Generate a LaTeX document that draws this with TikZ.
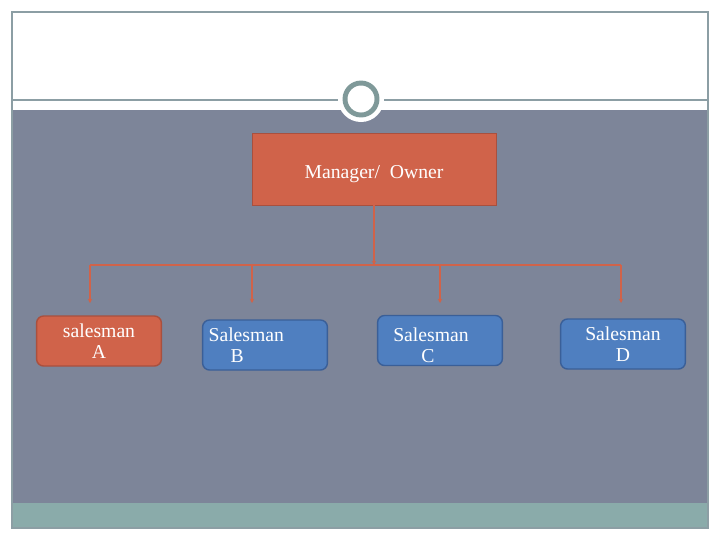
\documentclass[tikz,border=0pt]{standalone}
\usepackage{fontspec}
\setmainfont{Liberation Serif}
\usetikzlibrary{positioning, arrows.meta}

\definecolor{slate}{HTML}{7D8599}
\definecolor{teal}{HTML}{8AABAA}
\definecolor{framegray}{HTML}{8C9EA4}
\definecolor{ringgray}{HTML}{7F9999}
\definecolor{rust}{HTML}{D0634A}
\definecolor{rustdark}{HTML}{A9503E}
\definecolor{steel}{HTML}{4F7FC0}
\definecolor{steeldark}{HTML}{3A5F98}

\tikzset{
  boss/.style={draw=rustdark, fill=rust, text=white, minimum width=6.1cm, minimum height=1.8cm,
    text height=16pt, text depth=3pt, font=\fontsize{14}{16}\selectfont},
  worker/.style={draw=steeldark, fill=steel, text=white, rounded corners=5pt, line width=1pt,
    minimum width=3.12cm, minimum height=1.25cm, align=center, font=\fontsize{14}{15}\selectfont},
  lead/.style={worker, draw=rustdark, fill=rust},
  conn/.style={draw=rust, line width=1.3pt, -{Stealth[length=3pt,width=3pt]}},
}

\begin{document}
\begin{tikzpicture}[x=0.025cm, y=-0.025cm]
        \useasboundingbox (0,0) rectangle (720,540);
        % slide background
        \fill[white] (0,0) rectangle (720,540);
        \fill[slate] (12,110) rectangle (708,503);
        \fill[teal] (12,503) rectangle (708,528);
        \draw[framegray, line width=0.8pt] (12,12) rectangle (708,528);
        \draw[framegray, line width=1pt] (12,100) -- (708,100);
        \fill[white] (361,99) circle (23);
        \draw[ringgray, line width=3.5pt] (361,99) circle (16);

        \node[boss] (mgr) at (374,169) {Manager/\ \ Owner};
        \node[lead] (salesA) at (99,341) {salesman\\A};
        \node[worker, align=left, text width=2.82cm, inner xsep=0.15cm] (salesB) at (265,345)
          {Salesman\\\hspace*{0.55cm}B};
        \node[worker, inner ysep=1pt] (salesC) at (440,340.5)
          {\rule{0pt}{0.58cm}Salesman\hspace*{0.45cm}\\C\hspace*{0.6cm}};
        \node[worker] (salesD) at (623,344) {Salesman\\D};

        \coordinate (bus) at (374,265);
        \coordinate (busL) at (90,265);
        \coordinate (busR) at (621,265);
        \draw[conn] (mgr.south) -- (bus);
        \draw[draw=rust, line width=1.3pt] (busL) -- (busR);
        \draw[conn] (busL) -- (90,303);
        \draw[conn] (salesB.north |- bus) ++(-13,0) -- ++(0,38);
        \draw[conn] (salesC.north |- bus) -- ++(0,38);
        \draw[conn] (busR) -- (621,303);
    \end{tikzpicture}
\end{document}
